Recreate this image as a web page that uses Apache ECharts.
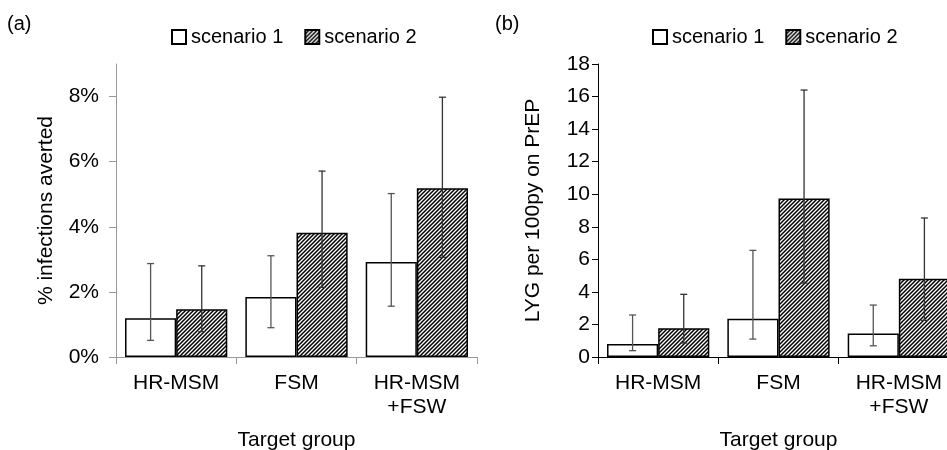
<!DOCTYPE html>
<html>
<head>
<meta charset="utf-8">
<script src="https://cdn.jsdelivr.net/npm/echarts@6/dist/echarts.min.js"></script>
<style>
html,body{margin:0;padding:0;background:#fff;}
#c{width:947px;height:450px;}
</style>
</head>
<body>
<div id="c"></div>
<script>
// ---- data ----
const categories = ['HR-MSM', 'FSM', 'HR-MSM\n+FSW'];
const seriesNames = ['scenario 1', 'scenario 2'];
// panel (a): % infections averted
const infS1 = [1.19, 1.84, 2.92];
const infS1Low = [0.51, 0.90, 1.56];
const infS1High = [2.87, 3.11, 5.02];
const infS2 = [1.47, 3.82, 5.18];
const infS2Low = [0.78, 2.14, 3.06];
const infS2High = [2.80, 5.71, 7.98];
const infTicks = [0, 2, 4, 6, 8];
// panel (b): LYG per 100py on PrEP
const lygS1 = [0.80, 2.35, 1.45];
const lygS1Low = [0.39, 1.10, 0.69];
const lygS1High = [2.58, 6.55, 3.19];
const lygS2 = [1.76, 9.74, 4.81];
const lygS2Low = [0.86, 4.54, 2.25];
const lygS2High = [3.85, 16.40, 8.54];

// ---- hatch pattern ----
function makeHatch() {
  const s = 4;
  const cv = document.createElement('canvas');
  cv.width = s; cv.height = s;
  const ctx = cv.getContext('2d');
  ctx.fillStyle = '#fff';
  ctx.fillRect(0, 0, s, s);
  ctx.strokeStyle = '#000';
  ctx.lineWidth = 1.5;
  ctx.beginPath();
  ctx.moveTo(0, s); ctx.lineTo(s, 0);
  ctx.moveTo(-1, 1); ctx.lineTo(1, -1);
  ctx.moveTo(s - 1, s + 1); ctx.lineTo(s + 1, s - 1);
  ctx.stroke();
  return cv;
}
const hatch = { image: makeHatch(), repeat: 'repeat' };

const FONT = "'Liberation Sans', Arial, sans-serif";
const FS = 21;
const BAR_CAT_GAP = 0.15;

function errData(low, high) {
  return low.map((l, i) => [i, l, high[i]]);
}
function errSeries(name, low, high, sign, axisIdx, color) {
  return {
    type: 'custom',
    name: name,
    xAxisIndex: axisIdx,
    yAxisIndex: axisIdx,
    z: 5,
    silent: true,
    encode: { x: 0, y: [1, 2] },
    data: errData(low, high),
    renderItem: function (params, api) {
      const idx = api.value(0);
      const lo = api.coord([idx, api.value(1)]);
      const hi = api.coord([idx, api.value(2)]);
      const band = api.size([1, 0])[0];
      const x = lo[0] + sign * band * (1 - BAR_CAT_GAP) / 4;
      const cw = 3.5;
      const st = { stroke: color, lineWidth: 1.3 };
      return {
        type: 'group',
        children: [
          { type: 'line', shape: { x1: x, y1: lo[1], x2: x, y2: hi[1] }, style: st },
          { type: 'line', shape: { x1: x - cw, y1: lo[1], x2: x + cw, y2: lo[1] }, style: st },
          { type: 'line', shape: { x1: x - cw, y1: hi[1], x2: x + cw, y2: hi[1] }, style: st }
        ]
      };
    }
  };
}

function barSeries(name, data, axisIdx, fill) {
  return {
    type: 'bar',
    name: name,
    xAxisIndex: axisIdx,
    yAxisIndex: axisIdx,
    data: data,
    barGap: '0%',
    barCategoryGap: (BAR_CAT_GAP * 100) + '%',
    itemStyle: { color: fill, borderColor: '#000', borderWidth: 1.5 },
    emphasis: { disabled: true },
    z: 2
  };
}

function xAxis(gridIndex, axisColor) {
  return {
    type: 'category',
    gridIndex: gridIndex,
    data: categories,
    name: 'Target group',
    nameLocation: 'middle',
    nameGap: 73,
    nameTextStyle: { fontFamily: FONT, fontSize: FS, color: '#000' },
    axisLine: { lineStyle: { color: axisColor, width: 1 } },
    axisTick: { show: true, length: 7, alignWithLabel: false, lineStyle: { color: axisColor } },
    axisLabel: { fontFamily: FONT, fontSize: FS, color: '#000', margin: 14, lineHeight: 24, interval: 0 },
    splitLine: { show: false }
  };
}

const legendCommon = {
  data: seriesNames,
  icon: 'rect',
  itemWidth: 14,
  itemHeight: 14,
  itemGap: 21,
  top: 22,
  textStyle: { fontFamily: FONT, fontSize: 20, color: '#000' },
  selectedMode: false
};

const option = {
  animation: false,
  backgroundColor: '#fff',
  title: [
    { text: '(a)', left: 2, top: 9, textStyle: { fontFamily: FONT, fontSize: 20, fontWeight: 'normal', color: '#000' } },
    { text: '(b)', left: 490, top: 9, textStyle: { fontFamily: FONT, fontSize: 20, fontWeight: 'normal', color: '#000' } }
  ],
  legend: [
    Object.assign({ left: 166 }, legendCommon),
    Object.assign({ left: 647 }, legendCommon)
  ],
  grid: [
    { left: 116, top: 64, width: 361, height: 293, outerBoundsMode: 'none', containLabel: false },
    { left: 598, top: 64, width: 361, height: 293, outerBoundsMode: 'none', containLabel: false }
  ],
  xAxis: [xAxis(0, '#999'), xAxis(1, '#000')],
  yAxis: [
    {
      type: 'value',
      gridIndex: 0,
      min: 0,
      max: 9,
      name: '% infections averted',
      nameLocation: 'middle',
      nameGap: 59,
      nameTextStyle: { fontFamily: FONT, fontSize: FS, color: '#000' },
      axisLine: { show: true, lineStyle: { color: '#999', width: 1 } },
      axisTick: { show: true, length: 7, customValues: infTicks, lineStyle: { color: '#999' } },
      axisLabel: { fontFamily: FONT, fontSize: FS, color: '#000', margin: 17, customValues: infTicks, formatter: '{value}%' },
      splitLine: { show: false }
    },
    {
      type: 'value',
      gridIndex: 1,
      min: 0,
      max: 18,
      interval: 2,
      name: 'LYG per 100py on PrEP',
      nameLocation: 'middle',
      nameGap: 54,
      nameTextStyle: { fontFamily: FONT, fontSize: FS, color: '#000' },
      axisLine: { show: true, lineStyle: { color: '#000', width: 1 } },
      axisTick: { show: true, length: 6, lineStyle: { color: '#000' } },
      axisLabel: { fontFamily: FONT, fontSize: FS, color: '#000', margin: 8 },
      splitLine: { show: false }
    }
  ],
  series: [
    barSeries('scenario 1', infS1, 0, '#fff'),
    barSeries('scenario 2', infS2, 0, hatch),
    errSeries('err a1', infS1Low, infS1High, -1, 0, '#555'),
    errSeries('err a2', infS2Low, infS2High, 1, 0, '#333'),
    barSeries('scenario 1', lygS1, 1, '#fff'),
    barSeries('scenario 2', lygS2, 1, hatch),
    errSeries('err b1', lygS1Low, lygS1High, -1, 1, '#555'),
    errSeries('err b2', lygS2Low, lygS2High, 1, 1, '#333')
  ]
};

const chart = echarts.init(document.getElementById('c'), null, { renderer: 'canvas' });
chart.setOption(option);
</script>
</body>
</html>
